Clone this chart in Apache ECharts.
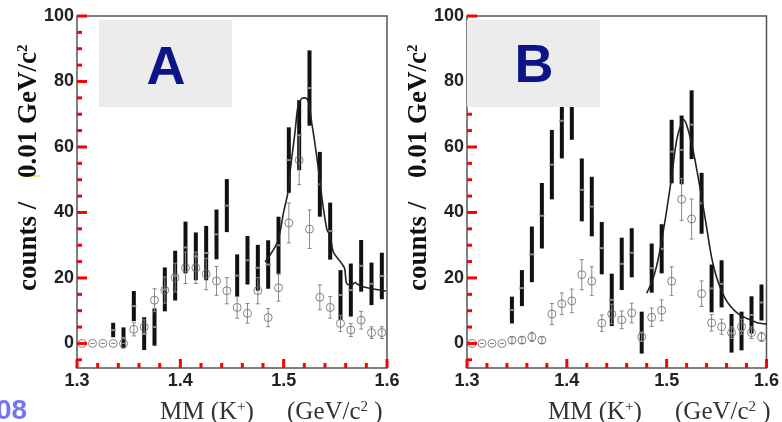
<!DOCTYPE html>
<html>
<head>
<meta charset="utf-8">
<script src="https://cdn.jsdelivr.net/npm/echarts@6/dist/echarts.min.js"></script>
<style>
  html, body { margin: 0; padding: 0; background: #fff; }
  #chart { width: 782px; height: 422px; }
</style>
</head>
<body>
<div id="chart"></div>
<script>
// bin centres, 0.01 GeV wide
const bins = [1.305, 1.315, 1.325, 1.335, 1.345, 1.355, 1.365, 1.375, 1.385, 1.395,
  1.405, 1.415, 1.425, 1.435, 1.445, 1.455, 1.465, 1.475, 1.485, 1.495,
  1.505, 1.515, 1.525, 1.535, 1.545, 1.555, 1.565, 1.575, 1.585, 1.595];

// panel A
const openA = [0, 0, 0, 0, 0, 4.3, 5.0, 13.2, 16.3, 20.1,
  23.1, 23.1, 21.2, 19.1, 16.1, 11.0, 9.2, 16.1, 7.9, 17.0,
  36.8, 56.0, 34.9, 14.1, 11.0, 6.1, 4.1, 7.1, 3.3, 3.3];
const openErrA = [0, 0, 0, 0, 0, 2.0, 2.2, 3.5, 4.0, 4.4,
  4.8, 4.8, 4.8, 4.4, 4.0, 3.3, 3.0, 4.0, 2.8, 4.1,
  6.1, 7.5, 5.9, 3.8, 3.3, 2.5, 2.0, 2.7, 1.8, 1.8];
const fillA = [null, null, null, 4.1, 1.7, 11.4, 3.0, 5.0, 16.5, 20.7,
  29.3, 26.6, 27.6, 33.3, 42.1, 20.7, 25.4, 23.1, 24.1, 30.0,
  56.0, 63.6, 78.0, 48.6, 34.3, 14.8, 16.3, 23.7, 18.2, 20.6];
const fillErrA = [null, null, null, 2.2, 3.2, 4.6, 5.0, 5.7, 6.7, 7.6,
  7.9, 7.3, 8.3, 7.6, 8.1, 6.5, 7.4, 7.0, 7.4, 8.7,
  10.0, 10.7, 11.5, 9.9, 8.7, 7.6, 8.1, 7.9, 6.5, 7.1];
const fitAx = [1.482, 1.494, 1.500, 1.5046, 1.5062, 1.511, 1.514, 1.5175, 1.521, 1.524,
  1.527, 1.530, 1.534, 1.538, 1.542, 1.545, 1.548, 1.555, 1.559, 1.561,
  1.566, 1.569, 1.572, 1.577, 1.584, 1.599];
const fitAy = [24.9, 31.0, 40.2, 46.8, 52.4, 64.6, 72.8, 74.8, 75.0, 73.8,
  67.7, 61.6, 52.4, 42.2, 34.6, 33.1, 28.0, 24.9, 22.9, 18.3,
  17.8, 18.6, 18.0, 17.3, 16.8, 16.0];

// panel B
const openB = [0, 0, 0, 0, 1.0, 1.0, 2.0, 1.0, 9.0, 12.1,
  13.0, 21.0, 19.0, 6.2, 9.0, 7.2, 9.3, 2.0, 8.0, 10.1,
  19.0, 44.0, 38.0, 15.2, 6.3, 5.1, 3.3, 5.1, 3.3, 2.0];
const openErrB = [0, 0, 0, 0, 1.0, 1.0, 1.4, 1.0, 3.2, 3.3,
  3.6, 4.6, 4.4, 2.5, 3.0, 2.7, 3.0, 1.4, 2.8, 3.2,
  4.4, 6.4, 6.1, 3.9, 2.5, 2.3, 1.8, 2.3, 1.8, 1.4];
const fillB = [null, null, null, null, 10.2, 16.9, 27.2, 39.0, 54.6, 68.0,
  74.0, 46.9, 41.8, 29.1, 13.3, 24.3, 27.7, 3.3, 23.0, 28.9,
  58.6, 59.1, 66.8, 42.8, 16.8, 18.2, 3.1, 3.8, 8.7, 12.5];
const fillErrB = [null, null, null, null, 4.1, 5.5, 8.5, 10.0, 10.6, 11.5,
  11.8, 9.6, 9.1, 8.0, 8.0, 8.0, 7.5, 6.4, 7.5, 7.5,
  9.7, 10.5, 10.5, 9.3, 7.3, 7.2, 5.9, 5.9, 5.7, 5.5];
const fitBx = [1.480, 1.485, 1.490, 1.495, 1.500, 1.505, 1.510, 1.515, 1.517, 1.520,
  1.525, 1.530, 1.535, 1.540, 1.545, 1.550, 1.555, 1.560, 1.565, 1.570,
  1.575, 1.580, 1.585, 1.590, 1.595, 1.600];
const fitBy = [15.4, 18.6, 23.7, 31.4, 40.6, 50.9, 62.1, 67.5, 68.3, 66.7,
  61.1, 53.4, 44.7, 35.5, 26.3, 20.2, 16.1, 13.0, 11.0, 9.5,
  8.4, 7.7, 7.1, 6.4, 6.1, 5.9];

// tick positions
const yMajor = [0, 20, 40, 60, 80, 100];
const yMinor = [-5, 5, 10, 15, 25, 30, 35, 45, 50, 55, 65, 70, 75, 85, 90, 95];
const xMajor = [1.3, 1.4, 1.5, 1.6];
const xMinor = [1.32, 1.34, 1.36, 1.38, 1.42, 1.44, 1.46, 1.48, 1.52, 1.54, 1.56, 1.58];
const xMin = 1.3, xMax = 1.6, yMin = -7.5, yMax = 100;

const serif = '"Liberation Serif", "Times New Roman", serif';
const sans = '"Liberation Sans", Arial, sans-serif';

function withErr(vals, errs) {
  const out = [];
  bins.forEach((b, i) => {
    if (vals[i] !== null) out.push([b, vals[i], errs[i]]);
  });
  return out;
}

// thick black error bar with a light centre mark
function solidBar(params, api) {
  const x = api.value(0), v = api.value(1), e = api.value(2);
  const top = api.coord([x, v + e]);
  const bot = api.coord([x, v - e]);
  const mid = api.coord([x, v]);
  return {
    type: 'group',
    children: [
      { type: 'rect', shape: { x: top[0] - 2, y: top[1], width: 4, height: bot[1] - top[1] }, style: { fill: '#111' } },
      { type: 'rect', shape: { x: mid[0] - 2.5, y: mid[1] - 1, width: 5, height: 2 }, style: { fill: '#888' } }
    ]
  };
}

// thin grey error bar with small caps
function thinBar(params, api) {
  const x = api.value(0), v = api.value(1), e = api.value(2);
  const top = api.coord([x, v + e]);
  const bot = api.coord([x, v - e]);
  const st = { stroke: '#888', lineWidth: 1 };
  return {
    type: 'group',
    children: [
      { type: 'line', shape: { x1: top[0], y1: top[1], x2: bot[0], y2: bot[1] }, style: st },
      { type: 'line', shape: { x1: top[0] - 2, y1: top[1], x2: top[0] + 2, y2: top[1] }, style: st },
      { type: 'line', shape: { x1: bot[0] - 2, y1: bot[1], x2: bot[0] + 2, y2: bot[1] }, style: st }
    ]
  };
}

// inward ticks on the left and bottom edges: [x, y, length, dir]
function tickMark(params, api) {
  const p = api.coord([api.value(0), api.value(1)]);
  const len = api.value(2);
  const horiz = api.value(3) === 0;
  return {
    type: 'line',
    shape: horiz
      ? { x1: p[0], y1: p[1], x2: p[0] + len, y2: p[1] }
      : { x1: p[0], y1: p[1], x2: p[0], y2: p[1] - len },
    style: { stroke: '#f00', lineWidth: 3 }
  };
}

function tickData() {
  return yMajor.map(v => [xMin, v, 10, 0])
    .concat(yMinor.map(v => [xMin, v, 5, 0]))
    .concat(xMajor.map(v => [v, yMin, 9, 1]))
    .concat(xMinor.map(v => [v, yMin, 5, 1]));
}

function xAxisFor(i) {
  return {
    type: 'value', gridIndex: i, min: xMin, max: xMax, interval: 0.1,
    axisLine: { show: false, onZero: false },
    axisTick: { show: false },
    splitLine: { show: false },
    axisLabel: {
      margin: 4, fontFamily: sans, fontSize: 18, fontWeight: 'bold', color: '#222',
      formatter: v => v.toFixed(1)
    }
  };
}

function yAxisFor(i) {
  return {
    type: 'value', gridIndex: i, min: yMin, max: yMax,
    axisLine: { show: false, onZero: false },
    axisTick: { show: false },
    splitLine: { show: false },
    axisLabel: { customValues: yMajor, margin: 3, fontFamily: sans, fontSize: 18, fontWeight: 'bold', color: '#222' }
  };
}

function panelSeries(i, openV, openE, fillV, fillE, fx, fy) {
  return [
    {
      type: 'custom', xAxisIndex: i, yAxisIndex: i, renderItem: tickMark,
      encode: { x: 0, y: 1 }, data: tickData(), clip: false, z: 7
    },
    {
      type: 'custom', xAxisIndex: i, yAxisIndex: i, renderItem: solidBar,
      encode: { x: 0, y: 1 }, data: withErr(fillV, fillE), z: 3, silent: true
    },
    {
      type: 'custom', xAxisIndex: i, yAxisIndex: i, renderItem: thinBar,
      encode: { x: 0, y: 1 }, data: withErr(openV, openE), z: 4, silent: true
    },
    {
      type: 'scatter', xAxisIndex: i, yAxisIndex: i,
      data: bins.map((b, k) => [b, openV[k]]),
      symbol: 'circle', symbolSize: 8,
      itemStyle: { color: 'rgba(0,0,0,0)', borderColor: '#666', borderWidth: 1 },
      z: 5, silent: true
    },
    {
      type: 'line', xAxisIndex: i, yAxisIndex: i,
      data: fx.map((x, k) => [x, fy[k]]),
      smooth: 0.3, showSymbol: false,
      lineStyle: { color: '#222', width: 1.6 },
      z: 6, silent: true
    }
  ];
}

// rotated y title, built from three pieces placed along the axis
function yLabel(cx) {
  const rich = {
    a: { fontFamily: serif, fontSize: 27, fontWeight: 'bold', fill: '#111' },
    s: { fontFamily: serif, fontSize: 15, fontWeight: 'bold', fill: '#111', verticalAlign: 'top' }
  };
  const piece = (y, text) => ({
    type: 'text', x: cx, y: y, rotation: Math.PI / 2, z: 100,
    style: { text: text, align: 'left', verticalAlign: 'middle', rich: rich }
  });
  return [
    piece(291, '{a|counts /}'),
    piece(178, '{a|0.01}'),
    piece(124, '{a|GeV/c}{s|2}')
  ];
}

function xLabel(left) {
  const rich = {
    a: { fontFamily: serif, fontSize: 25, fill: '#333' },
    s: { fontFamily: serif, fontSize: 15, fill: '#333', verticalAlign: 'top' }
  };
  return [{
    type: 'text', x: left, y: 412, z: 100,
    style: { text: '{a|MM (K}{s|+}{a|)}', align: 'left', verticalAlign: 'middle', rich: rich }
  }, {
    type: 'text', x: left + 127, y: 412, z: 100,
    style: { text: '{a|(GeV/c}{s|2}{a| )}', align: 'left', verticalAlign: 'middle', rich: rich }
  }];
}

const chart = echarts.init(document.getElementById('chart'));
chart.setOption({
  animation: false,
  grid: [
    { left: 77, top: 16, width: 310, height: 352, show: true, borderColor: '#555', borderWidth: 1.5, backgroundColor: 'transparent' },
    { left: 467, top: 16, width: 307, height: 352, show: true, borderColor: '#555', borderWidth: 1.5, backgroundColor: 'transparent' }
  ],
  xAxis: [xAxisFor(0), xAxisFor(1)],
  yAxis: [yAxisFor(0), yAxisFor(1)],
  series: panelSeries(0, openA, openErrA, fillA, fillErrA, fitAx, fitAy)
    .concat(panelSeries(1, openB, openErrB, fillB, fillErrB, fitBx, fitBy)),
  graphic: [
    { type: 'rect', shape: { x: 99, y: 20, width: 133, height: 87 }, style: { fill: '#ececec' }, z: 100 },
    { type: 'text', x: 166, y: 69, z: 101, style: { text: 'A', font: 'bold 54px ' + sans, fill: '#0c1488', align: 'center', verticalAlign: 'middle' } },
    { type: 'rect', shape: { x: 467, y: 20, width: 133, height: 87 }, style: { fill: '#ececec' }, z: 100 },
    { type: 'text', x: 534, y: 67, z: 101, style: { text: 'B', font: 'bold 54px ' + sans, fill: '#0c1488', align: 'center', verticalAlign: 'middle' } },
    ...yLabel(29),
    ...yLabel(419),
    { type: 'line', shape: { x1: 21, y1: 176, x2: 40, y2: 176 }, style: { stroke: '#f0e050', lineWidth: 1.5 }, z: 99 },
    { type: 'line', shape: { x1: 408, y1: 175, x2: 426, y2: 175 }, style: { stroke: '#f0e050', lineWidth: 1.5 }, z: 99 },
    ...xLabel(160),
    ...xLabel(548),
    { type: 'text', x: -4, y: 411, z: 100, style: { text: '08', font: 'bold 28px ' + sans, fill: '#7474f4', align: 'left', verticalAlign: 'middle' } }
  ]
});
</script>
</body>
</html>
